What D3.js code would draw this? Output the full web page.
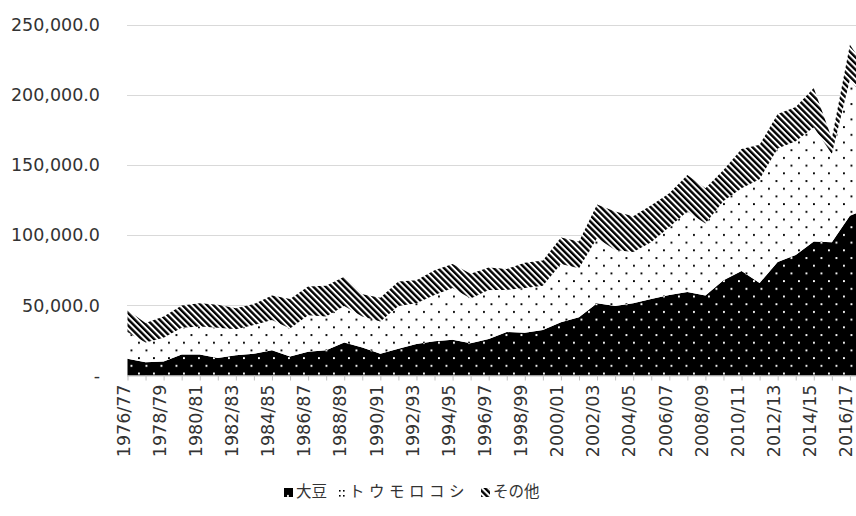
<!DOCTYPE html>
<html>
<head>
<meta charset="utf-8">
<title>大豆・トウモロコシ・その他</title>
<style>
  body { margin: 0; background: #fff; }
  svg { display: block; }
  .tick text { font-family: "DejaVu Sans", sans-serif; font-size: 17.5px; fill: #333; }
  .legend text { font-family: "Noto Sans CJK JP", sans-serif; font-size: 15.5px; fill: #333; }
</style>
</head>
<body>
<svg width="856" height="516"></svg>
<script src="https://d3js.org/d3.v7.min.js"></script>
<script>
// seasons (category axis)
var seasons = ["1976/77","1977/78","1978/79","1979/80","1980/81","1981/82","1982/83","1983/84",
  "1984/85","1985/86","1986/87","1987/88","1988/89","1989/90","1990/91","1991/92","1992/93",
  "1993/94","1994/95","1995/96","1996/97","1997/98","1998/99","1999/00","2000/01","2001/02",
  "2002/03","2003/04","2004/05","2005/06","2006/07","2007/08","2008/09","2009/10","2010/11",
  "2011/12","2012/13","2013/14","2014/15","2015/16","2016/17","2017/18"];

// series values
var soy = [12000,9500,10000,15000,15000,12500,14500,15500,18000,13500,17000,18000,23500,20000,
  15500,19000,22500,24500,25500,23000,26000,31000,30500,32500,38000,41500,51500,49500,51500,
  54500,57500,59500,57000,68000,74500,66000,81000,86000,95500,95000,114000,119000];
var corn = [19000,14000,17000,19000,20000,21500,18500,20500,21500,20000,26000,24000,26000,22000,
  23000,30500,29000,33000,37000,32000,35000,30000,32000,31500,41500,35000,46500,40000,36500,
  40500,48500,57500,51500,56500,59000,74000,81000,81000,81500,63000,97000,76000];
var other = [15500,14000,15000,16000,16500,16500,15000,15000,17500,21000,20500,22000,21000,16000,
  17000,17500,16500,17500,17000,17500,16000,15000,18000,18000,19000,19000,24000,27500,25500,
  26500,24000,26000,25000,22000,28000,24500,24500,24500,28000,11000,25000,22000];

var seriesNames = ["大豆", "トウモロコシ", "その他"];
var yTicks = [0, 50000, 100000, 150000, 200000, 250000];

var svg = d3.select("svg");

// fill patterns
var defs = svg.append("defs");

function dotPattern(id, bg, fg) {
    var p = defs.append("pattern").attr("id", id)
        .attr("patternUnits", "userSpaceOnUse").attr("width", 15).attr("height", 15.4);
    p.append("rect").attr("width", 15).attr("height", 15.4).attr("fill", bg);
    p.append("rect").attr("x", 3).attr("y", 3).attr("width", 1.9).attr("height", 1.9).attr("fill", fg);
    p.append("rect").attr("x", 10.5).attr("y", 10.7).attr("width", 1.9).attr("height", 1.9).attr("fill", fg);
}
dotPattern("pSoy", "#000", "#fff");
dotPattern("pCorn", "#fff", "#000");

var pOther = defs.append("pattern").attr("id", "pOther")
    .attr("patternUnits", "userSpaceOnUse").attr("width", 4.4).attr("height", 4.4)
    .attr("patternTransform", "rotate(-45)");
pOther.append("rect").attr("width", 4.4).attr("height", 4.4).attr("fill", "#fff");
pOther.append("rect").attr("width", 2.4).attr("height", 4.4).attr("fill", "#000");

var fills = ["url(#pSoy)", "url(#pCorn)", "url(#pOther)"];

// scales
var x = d3.scalePoint().domain(seasons).range([127.5, 127.5 + 18.06 * (seasons.length - 1)]);
var y = d3.scaleLinear().domain([0, 250000]).range([375.5, 25]);

// gridlines
svg.append("g").selectAll("line")
    .data(yTicks.slice(1))
    .enter().append("line")
    .attr("x1", 127).attr("x2", 856)
    .attr("y1", function (d) { return Math.round(y(d)) + 0.5; })
    .attr("y2", function (d) { return Math.round(y(d)) + 0.5; })
    .attr("stroke", "#d9d9d9").attr("stroke-width", 1);

// stacked areas
var table = seasons.map(function (s, i) {
    return { season: s, "大豆": soy[i], "トウモロコシ": corn[i], "その他": other[i] };
});
var stacked = d3.stack().keys(seriesNames)(table);

var area = d3.area()
    .x(function (d) { return x(d.data.season); })
    .y0(function (d) { return y(d[0]); })
    .y1(function (d) { return y(d[1]); });

svg.append("g").selectAll("path")
    .data(stacked)
    .enter().append("path")
    .attr("fill", function (d, i) { return fills[i]; })
    .attr("d", area);

// y axis (labels only)
var yAxis = svg.append("g")
    .attr("transform", "translate(100,0)")
    .call(d3.axisLeft(y).tickValues(yTicks).tickSize(0).tickPadding(0)
        .tickFormat(function (d) { return d === 0 ? "-  " : d3.format(",.1f")(d); }));
yAxis.select(".domain").remove();

// x axis
var xAxis = svg.append("g")
    .attr("transform", "translate(0," + y(0) + ")")
    .call(d3.axisBottom(x).tickSize(5)
        .tickFormat(function (d, i) { return i % 2 === 0 ? d : ""; }));
xAxis.select(".domain").attr("stroke", "#bfbfbf").attr("d", "M127,0.5H856");
xAxis.selectAll(".tick line").attr("stroke", "#bfbfbf");
xAxis.selectAll(".tick text")
    .attr("transform", "rotate(-90)")
    .attr("text-anchor", "end")
    .attr("x", -9)
    .attr("y", 0)
    .attr("dy", "0.1em");

// legend
var legendX = [284, 337, 481];
var legendSpacing = [0, 4.5, 0];
var legend = svg.append("g").attr("class", "legend");
seriesNames.forEach(function (name, i) {
    var g = legend.append("g").attr("transform", "translate(" + legendX[i] + ",492)");
    if (i === 1) {
        g.append("rect").attr("x", 0).attr("y", -4).attr("width", 9).attr("height", 9).attr("fill", "#fff");
        [[2, -2], [6, -2], [2, 3], [6, 3]].forEach(function (p) {
            g.append("rect").attr("x", p[0]).attr("y", p[1]).attr("width", 1.6).attr("height", 1.6).attr("fill", "#000");
        });
    } else {
        g.append("rect").attr("x", 0).attr("y", -4).attr("width", 9).attr("height", 9).attr("fill", fills[i]);
    }
    g.append("text").attr("x", 12).attr("y", 0).attr("dy", "0.35em")
        .attr("letter-spacing", legendSpacing[i]).text(name);
});
</script>
</body>
</html>
